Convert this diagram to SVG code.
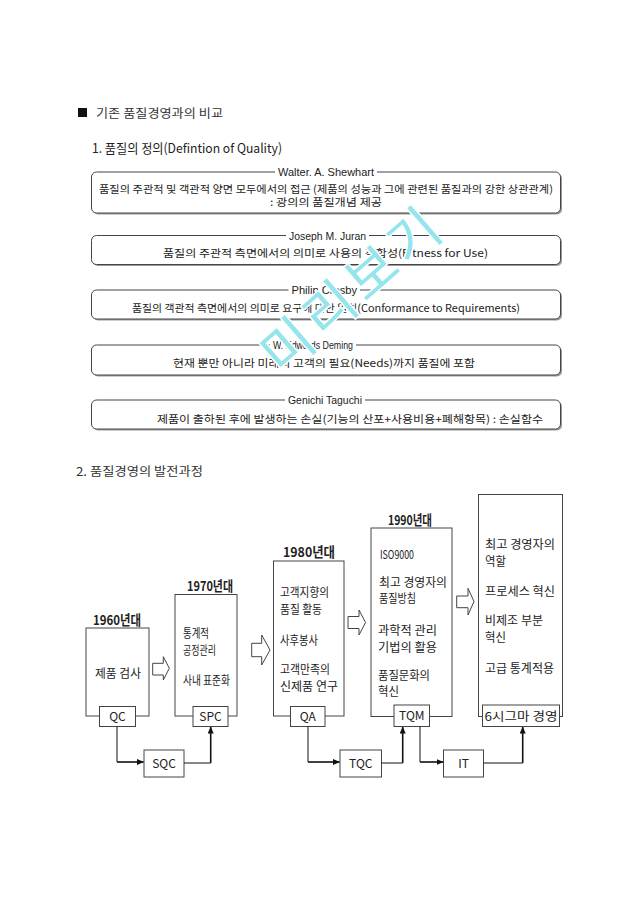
<svg xmlns="http://www.w3.org/2000/svg" width="640" height="905" viewBox="0 0 640 905">
<defs>
<marker id="ah" markerWidth="7" markerHeight="6" refX="6.5" refY="3" orient="auto" markerUnits="userSpaceOnUse"><path d="M0,0 L7,3 L0,6 z" fill="#111"/></marker>
</defs>
<style>
.t{font-family:"Noto Sans CJK KR","Liberation Sans",sans-serif;fill:#222}
.h{font-size:12px;fill:#333}
.nm{font-family:"Liberation Sans","Noto Sans CJK KR",sans-serif;font-size:10.5px;fill:#222}
.bd{font-size:10.5px}
.frame{fill:#fff;stroke:#444;stroke-width:1}
.shadow{fill:#9a9a9a}
.gap{fill:#fff}
.box{fill:#fff;stroke:#444;stroke-width:1}
.dt{font-size:12px}
.yr{font-size:13.5px;font-weight:bold}
.conn{fill:none;stroke:#111;stroke-width:1}
.conn2{fill:none;stroke:#111;stroke-width:1.6}
.blk{fill:#fff;stroke:#444;stroke-width:1}
.wm{font-family:"Noto Sans CJK KR",sans-serif;font-size:54px;fill:#95e5ec;stroke:#fff;stroke-width:3;paint-order:stroke;letter-spacing:6px}
</style>
<rect width="640" height="905" fill="#fff"/>

<g id="header">
<rect x="78" y="108" width="9" height="9" fill="#111"/>
<text class="t h" x="96" y="117.5" textLength="127" lengthAdjust="spacingAndGlyphs">기존 품질경영과의 비교</text>
<text class="t" x="92" y="152.5" font-size="13" textLength="190" lengthAdjust="spacingAndGlyphs">1. 품질의 정의(Defintion of Quality)</text>
</g>

<g id="def-shewhart">
<rect class="shadow" x="93" y="173.5" width="469" height="41" rx="5"/>
<rect class="frame" x="91.5" y="172" width="469" height="41" rx="5"/>
<rect class="gap" x="275" y="166" width="102" height="11"/>
<text class="nm" x="278" y="175.5" textLength="96" lengthAdjust="spacingAndGlyphs">Walter. A. Shewhart</text>
<text class="t bd" x="99" y="192.5" textLength="454" lengthAdjust="spacingAndGlyphs">품질의 주관적 및 객관적 양면 모두에서의 접근 (제품의 성능과 그에 관련된 품질과의 강한 상관관계)</text>
<text class="t bd" x="270" y="206" textLength="112" lengthAdjust="spacingAndGlyphs">: 광의의 품질개념 제공</text>
</g>

<g id="def-juran">
<rect class="shadow" x="93" y="237" width="469" height="29" rx="5"/>
<rect class="frame" x="91.5" y="235.5" width="469" height="29" rx="5"/>
<rect class="gap" x="286" y="230" width="83" height="11"/>
<text class="nm" x="289" y="239.5" textLength="77" lengthAdjust="spacingAndGlyphs">Joseph M. Juran</text>
<text class="t bd" x="163" y="257" textLength="325" lengthAdjust="spacingAndGlyphs">품질의 주관적 측면에서의 의미로 사용의 적합성(Fitness for Use)</text>
</g>

<g id="def-crosby">
<rect class="shadow" x="93" y="291.5" width="469" height="29" rx="5"/>
<rect class="frame" x="91.5" y="290" width="469" height="29" rx="5"/>
<rect class="gap" x="288.5" y="284.5" width="71.5" height="11"/>
<text class="nm" x="291.5" y="294" textLength="65.5" lengthAdjust="spacingAndGlyphs">Philip Crosby</text>
<text class="t bd" x="132" y="312" textLength="388" lengthAdjust="spacingAndGlyphs">품질의 객관적 측면에서의 의미로 요구에 대한 일치(Conformance to Requirements)</text>
</g>

<g id="def-deming">
<rect class="shadow" x="93" y="346.5" width="469" height="30" rx="5"/>
<rect class="frame" x="91.5" y="345" width="469" height="30" rx="5"/>
<rect class="gap" x="270" y="339.5" width="86" height="11"/>
<text class="nm" x="273" y="349" textLength="80" lengthAdjust="spacingAndGlyphs">W. Edwards Deming</text>
<text class="t bd" x="173" y="367" textLength="302" lengthAdjust="spacingAndGlyphs">현재 뿐만 아니라 미래의 고객의 필요(Needs)까지 품질에 포함</text>
</g>

<g id="def-taguchi">
<rect class="shadow" x="93" y="401.5" width="469" height="29" rx="5"/>
<rect class="frame" x="91.5" y="400" width="469" height="29" rx="5"/>
<rect class="gap" x="285" y="394.5" width="80" height="11"/>
<text class="nm" x="288" y="404" textLength="74" lengthAdjust="spacingAndGlyphs">Genichi Taguchi</text>
<text class="t bd" x="157" y="423" textLength="386" lengthAdjust="spacingAndGlyphs">제품이 출하된 후에 발생하는 손실(기능의 산포+사용비용+폐해항목) : 손실함수</text>
</g>

<g id="section2">
<text class="t h" x="76" y="476" textLength="127" lengthAdjust="spacingAndGlyphs">2. 품질경영의 발전과정</text>
</g>

<g id="era-1960">
<text class="t yr" x="93" y="624.5" textLength="48" lengthAdjust="spacingAndGlyphs">1960년대</text>
<rect class="box" x="86" y="628" width="63" height="88"/>
<text class="t dt" x="95" y="677.5" textLength="46" lengthAdjust="spacingAndGlyphs">제품 검사</text>
</g>
<g id="qc">
<rect class="box" x="99.5" y="706.5" width="36" height="20"/>
<text class="t dt" x="117.5" y="721" text-anchor="middle">QC</text>
</g>

<g id="era-1970">
<text class="t yr" x="187" y="590.5" textLength="46" lengthAdjust="spacingAndGlyphs">1970년대</text>
<rect class="box" x="175" y="594.5" width="62" height="121.5"/>
<text class="t dt" x="183" y="637.5" textLength="26" lengthAdjust="spacingAndGlyphs">통계적</text>
<text class="t dt" x="183" y="655" textLength="33" lengthAdjust="spacingAndGlyphs">공정관리</text>
<text class="t dt" x="183" y="684.5" textLength="47" lengthAdjust="spacingAndGlyphs">사내 표준화</text>
</g>
<g id="spc">
<rect class="box" x="193" y="706.5" width="35" height="20"/>
<text class="t dt" x="210.5" y="721" text-anchor="middle">SPC</text>
</g>

<g id="sqc">
<rect class="box" x="144" y="750" width="40" height="27"/>
<text class="t dt" x="164" y="768" text-anchor="middle">SQC</text>
</g>

<g id="era-1980">
<text class="t yr" x="283" y="557" textLength="52" lengthAdjust="spacingAndGlyphs">1980년대</text>
<rect class="box" x="273.5" y="561" width="70.5" height="155"/>
<text class="t dt" x="280" y="596.5" textLength="49" lengthAdjust="spacingAndGlyphs">고객지향의</text>
<text class="t dt" x="280" y="613.5" textLength="42" lengthAdjust="spacingAndGlyphs">품질 활동</text>
<text class="t dt" x="280" y="644.5" textLength="38" lengthAdjust="spacingAndGlyphs">사후봉사</text>
<text class="t dt" x="280" y="674" textLength="50" lengthAdjust="spacingAndGlyphs">고객만족의</text>
<text class="t dt" x="280" y="691" textLength="58" lengthAdjust="spacingAndGlyphs">신제품 연구</text>
</g>
<g id="qa">
<rect class="box" x="290.5" y="706.5" width="34.5" height="20"/>
<text class="t dt" x="307.8" y="721" text-anchor="middle">QA</text>
</g>

<g id="tqc">
<rect class="box" x="340" y="750" width="41.5" height="27"/>
<text class="t dt" x="360.8" y="768" text-anchor="middle">TQC</text>
</g>

<g id="era-1990">
<text class="t yr" x="388" y="524.5" textLength="44" lengthAdjust="spacingAndGlyphs">1990년대</text>
<rect class="box" x="371" y="528" width="81" height="188.5"/>
<text class="t dt" x="380" y="558.5" textLength="34" lengthAdjust="spacingAndGlyphs">ISO9000</text>
<text class="t dt" x="379" y="586.5" textLength="68" lengthAdjust="spacingAndGlyphs">최고 경영자의</text>
<text class="t dt" x="379" y="603" textLength="37" lengthAdjust="spacingAndGlyphs">품질방침</text>
<text class="t dt" x="378" y="635" textLength="59" lengthAdjust="spacingAndGlyphs">과학적 관리</text>
<text class="t dt" x="378" y="651.5" textLength="59" lengthAdjust="spacingAndGlyphs">기법의 활용</text>
<text class="t dt" x="378" y="679.5" textLength="52" lengthAdjust="spacingAndGlyphs">품질문화의</text>
<text class="t dt" x="378" y="696" textLength="21" lengthAdjust="spacingAndGlyphs">혁신</text>
</g>
<g id="tqm">
<rect class="box" x="394" y="705" width="35.5" height="21.5"/>
<text class="t dt" x="411.8" y="720" text-anchor="middle">TQM</text>
</g>

<g id="it">
<rect class="box" x="443.5" y="750" width="40" height="27"/>
<text class="t dt" x="463.5" y="768" text-anchor="middle">IT</text>
</g>

<g id="era-6sigma">
<rect class="box" x="478.5" y="494.5" width="84" height="222"/>
<text class="t dt" x="485" y="549" textLength="70" lengthAdjust="spacingAndGlyphs">최고 경영자의</text>
<text class="t dt" x="485" y="566" textLength="21" lengthAdjust="spacingAndGlyphs">역할</text>
<text class="t dt" x="485" y="595.5" textLength="70" lengthAdjust="spacingAndGlyphs">프로세스 혁신</text>
<text class="t dt" x="485" y="625" textLength="58" lengthAdjust="spacingAndGlyphs">비제조 부분</text>
<text class="t dt" x="485" y="641.5" textLength="21" lengthAdjust="spacingAndGlyphs">혁신</text>
<text class="t dt" x="485" y="672.5" textLength="69" lengthAdjust="spacingAndGlyphs">고급 통계적용</text>
</g>
<g id="sixsigma">
<rect class="box" x="482.5" y="705" width="77" height="21.5"/>
<text class="t dt" x="484.5" y="720.5" textLength="73" lengthAdjust="spacingAndGlyphs">6시그마 경영</text>
</g>

<g id="connectors">
<path class="blk" d="M152.7,663.3 H163.3 V656.7 L169.3,668.3 L163.3,680 V675 H152.7 Z"/>
<path class="blk" d="M251.7,643.3 H261.7 V635 L270,650 L261.7,665 V656.7 H251.7 Z"/>
<path class="blk" d="M348,616.5 H359 V610 L365.5,622.5 L359,635 V628.5 H348 Z"/>
<path class="blk" d="M456.7,596 H468 V588.3 L474,601.5 L468,615 V607.7 H456.7 Z"/>
<path class="conn" d="M117,726.5 V762"/>
<path class="conn2" d="M117,762 H143.5" marker-end="url(#ah)"/>
<path class="conn" d="M184,763 H210.7"/>
<path class="conn2" d="M210.7,763 V727" marker-end="url(#ah)"/>
<path class="conn" d="M308,726.5 V762"/>
<path class="conn2" d="M308,762 H339.5" marker-end="url(#ah)"/>
<path class="conn" d="M381.5,763 H402.7"/>
<path class="conn2" d="M402.7,763 V727" marker-end="url(#ah)"/>
<path class="conn" d="M420,726.5 V762"/>
<path class="conn2" d="M420,762 H443" marker-end="url(#ah)"/>
<path class="conn" d="M483.5,763 H522.7"/>
<path class="conn2" d="M522.7,763 V727" marker-end="url(#ah)"/>
</g>

<g id="watermark">
<text class="wm" x="354" y="308" text-anchor="middle" transform="rotate(-41 354 290)">미리보기</text>
</g>
</svg>
